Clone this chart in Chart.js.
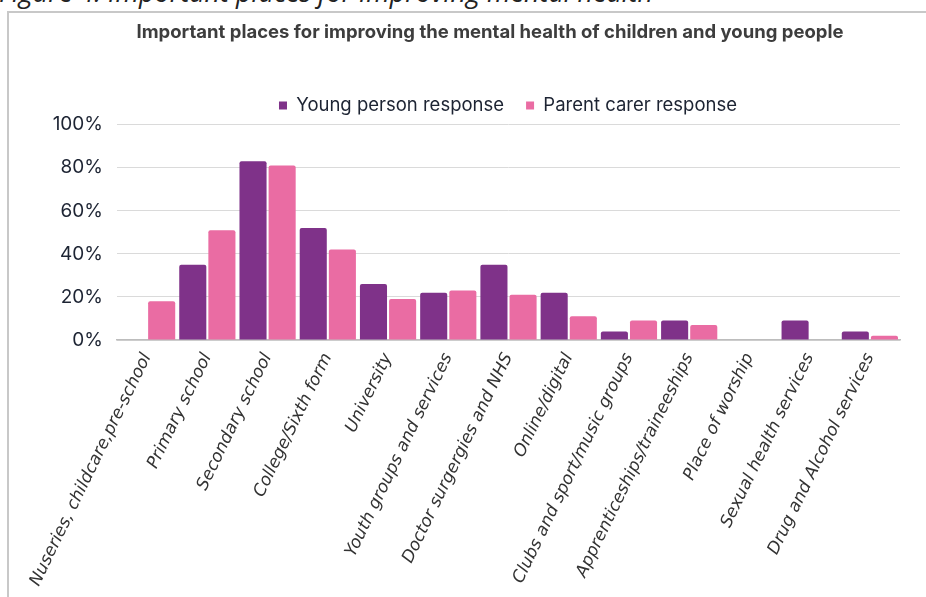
<!DOCTYPE html>
<html>
<head>
<meta charset="utf-8">
<script src="https://cdn.jsdelivr.net/npm/chart.js@4"></script>
<style>
    html, body { margin: 0; padding: 0; background: #fff; overflow: hidden; }
    body { width: 926px; height: 597px; position: relative; }
    .caption {
        position: absolute; left: -1px; top: -22px; line-height: 27px;
        font-family: "Open Sans", sans-serif; font-style: italic;
        font-size: 27px; color: #222; white-space: nowrap;
    }
    .frame {
        position: absolute; left: 7px; top: 11px; width: 940px; height: 600px;
        border-left: 2px solid #c8c8c8; border-top: 2px solid #c8c8c8;
    }
    #chart-wrap { position: absolute; left: 10px; top: 14px; }
</style>
</head>
<body>
<div class="caption">Figure 4: Important places for improving mental health</div>
<div class="frame"></div>
<div id="chart-wrap"><canvas id="places-chart" width="916" height="583"></canvas></div>
<script>
document.addEventListener('DOMContentLoaded', function () {
    const places = [
        'Nuseries, childcare,pre-school', 'Primary school', 'Secondary school',
        'College/Sixth form', 'University', 'Youth groups and services',
        'Doctor surgergies and NHS', 'Online/digital', 'Clubs and sport/music groups',
        'Apprenticeships/traineeships', 'Place of worship', 'Sexual health services',
        'Drug and Alcohol services'
    ];
    const youngPerson = [0, 35, 83, 52, 26, 22, 35, 22, 4, 9, 0, 9, 4];
    const parentCarer = [18, 51, 81, 42, 19, 23, 21, 11, 9, 7, 0, 0, 2];
    const yTicks = [0, 20, 40, 60, 80, 100];

    const purple = '#7f3289';
    const pink = '#ea6ca3';

    // title and legend sit a little right of the canvas centre
    const nudgeBlocks = {
        id: 'nudgeBlocks',
        afterLayout(chart) {
            if (chart.titleBlock) {
                chart.titleBlock.left += 35;
                chart.titleBlock.right += 35;
            }
            if (chart.legend) {
                chart.legend.left += 53;
                chart.legend.right += 53;
            }
        }
    };

    const ctx = document.getElementById('places-chart').getContext('2d');
    new Chart(ctx, {
        type: 'bar',
        data: {
            labels: places,
            datasets: [{
                label: 'Young person response',
                data: youngPerson,
                backgroundColor: purple,
                borderRadius: 2,
                borderSkipped: 'bottom'
            }, {
                label: 'Parent carer response',
                data: parentCarer,
                backgroundColor: pink,
                borderRadius: 2,
                borderSkipped: 'bottom'
            }]
        },
        options: {
            responsive: false,
            animation: false,
            layout: { padding: { left: 0, right: 26, top: 0, bottom: 0 } },
            datasets: {
                bar: { categoryPercentage: 0.967, barPercentage: 0.93 }
            },
            plugins: {
                title: {
                    display: true,
                    text: 'Important places for improving the mental health of children and young people',
                    color: '#3d3d3d',
                    font: { family: 'Inter', size: 18.5, weight: 'bold' },
                    padding: { top: 7, bottom: 31 }
                },
                legend: {
                    position: 'top',
                    labels: {
                        color: '#1d2433',
                        font: { family: 'Inter', size: 18.5 },
                        boxWidth: 8,
                        boxHeight: 8,
                        padding: 22
                    }
                },
                tooltip: { enabled: false }
            },
            scales: {
                x: {
                    grid: { display: false },
                    border: { color: '#bdbdbd', width: 1.5 },
                    ticks: {
                        autoSkip: false,
                        minRotation: 64,
                        maxRotation: 64,
                        padding: 2,
                        color: '#333',
                        font: { family: 'DejaVu Sans', size: 17, style: 'italic' }
                    },
                    afterFit(scale) { scale.height = 257; }
                },
                y: {
                    min: 0,
                    max: 100,
                    afterBuildTicks(scale) {
                        scale.ticks = yTicks.map(v => ({ value: v }));
                    },
                    grid: { color: '#dadada', drawTicks: false },
                    border: { display: false },
                    ticks: {
                        padding: 14,
                        color: '#1d2433',
                        font: { family: 'Inter', size: 19 },
                        callback: v => v + '%'
                    },
                    afterFit(scale) { scale.width = 107; }
                }
            }
        },
        plugins: [nudgeBlocks]
    });
});
</script>
</body>
</html>
